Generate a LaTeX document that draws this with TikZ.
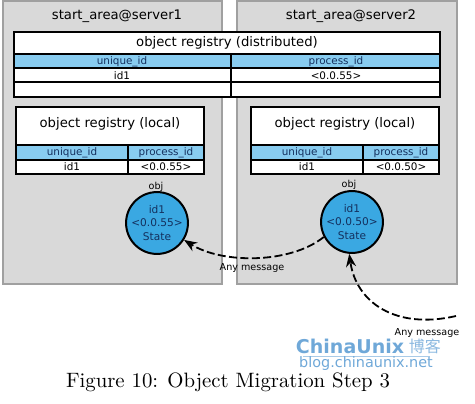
\documentclass[tikz,border=0pt]{standalone}
\usepackage{fontspec}
\setmainfont{Latin Modern Roman}
\newfontfamily\dv{DejaVu Sans}
\newfontfamily\cjk{Noto Sans CJK SC}
\usetikzlibrary{arrows.meta}
\definecolor{srvfill}{HTML}{D9D9D9}
\definecolor{srvdraw}{HTML}{A0A0A0}
\definecolor{hdrfill}{HTML}{88CCF0}
\definecolor{objfill}{HTML}{3AA8E2}
\definecolor{navy}{HTML}{14305E}
\definecolor{wm}{HTML}{6FA8D8}
\tikzset{
  server/.style={fill=srvfill,draw=srvdraw,line width=1pt},
  tbl/.style={draw=black,line width=0.8pt},
  hdr/.style={fill=hdrfill},
  ttl/.style={font=\dv\fontsize{6.6}{8}\selectfont,inner sep=0pt},
  cell/.style={font=\dv\fontsize{5.2}{6}\selectfont,inner sep=0pt},
  hcell/.style={cell,text=navy},
  objc/.style={circle,draw=black,line width=1pt,fill=objfill,minimum size=24pt,inner sep=0pt,
    font=\dv\fontsize{5.3}{6.6}\selectfont,text=navy,align=center},
  lbl/.style={font=\dv\fontsize{4.8}{6}\selectfont,inner sep=0pt},
  msg/.style={line width=0.9pt,dash pattern=on 4pt off 1.7pt,-{Stealth[length=6.5pt,width=5pt]}},
}
\begin{document}
\begin{tikzpicture}[x=0.5pt,y=-0.5pt]
\useasboundingbox (0,0) rectangle (475,403);
% server boxes
\draw[server] (3,1) rectangle (222,284);
\draw[server] (237,1) rectangle (457,284);
\node[ttl] (t1) at (117,16) {start\_area@server1};
\node[ttl] (t2) at (351,16) {start\_area@server2};
% distributed registry
\fill[white] (14,32) rectangle (440,97);
\fill[hdr] (14,54) rectangle (440,68);
\draw[tbl] (14,32) rectangle (440,97);
\draw[tbl] (14,54) -- (440,54) (14,68) -- (440,68) (14,82) -- (440,82) (231,54) -- (231,97);
\node[ttl] (dt) at (227,43) {object registry (distributed)};
\node[hcell] (du) at (122,61.5) {unique\_id};
\node[hcell] (dp) at (336,61.5) {process\_id};
\node[cell] (di) at (122,75.5) {id1};
\node[cell] (dv) at (336,75.5) {<0.0.55>};
% local registry left
\fill[white] (16,107) rectangle (204,174);
\fill[hdr] (16,145) rectangle (204,160);
\draw[tbl] (16,107) rectangle (204,174);
\draw[tbl] (16,145) -- (204,145) (16,160) -- (204,160) (128,145) -- (128,174);
\node[ttl] (lt1) at (110,124) {object registry (local)};
\node[hcell] (lu1) at (72,152.5) {unique\_id};
\node[hcell] (lp1) at (166,152.5) {process\_id};
\node[cell] (li1) at (72,167) {id1};
\node[cell] (lv1) at (166,167) {<0.0.55>};
% local registry right
\fill[white] (251,107) rectangle (439,174);
\fill[hdr] (251,145) rectangle (439,160);
\draw[tbl] (251,107) rectangle (439,174);
\draw[tbl] (251,145) -- (439,145) (251,160) -- (439,160) (363,145) -- (363,174);
\node[ttl] (lt2) at (345,124) {object registry (local)};
\node[hcell] (lu2) at (307,152.5) {unique\_id};
\node[hcell] (lp2) at (401,152.5) {process\_id};
\node[cell] (li2) at (307,167) {id1};
\node[cell] (lv2) at (401,167) {<0.0.50>};
% objects
\node[lbl] (ol1) at (156,187) {obj};
\node[lbl] (ol2) at (349,185) {obj};
\node[objc] (obj1) at (157,223) {id1\\<0.0.55>\\State};
\node[objc] (obj2) at (352,222) {id1\\<0.0.50>\\State};
% messages
\coordinate (src) at (456,316);
\draw[msg] (obj2.208) .. controls (290,264) and (222,264) .. (obj1.-32);
\node[lbl] (m1) at (252,268) {Any message};
\draw[msg] (src) .. controls (395,330) and (356,302) .. (obj2.-95);
\node[lbl] (m2) at (427,333) {Any message};
% watermark
\node[inner sep=0pt,text=wm,font=\dv\bfseries\fontsize{9.5}{10}\selectfont] (w1) at (350,346) {ChinaUnix};
\node[inner sep=0pt,text=wm!80,font=\cjk\fontsize{8}{9}\selectfont,anchor=west] (w2) at (w1.east) {\hspace{2pt}博客};
\draw[wm!60,line width=0.4pt] (303,356) -- (430,356);
\node[inner sep=0pt,text=wm,font=\dv\fontsize{7.2}{8}\selectfont] (w3) at (366,364) {blog.chinaunix.net};
% caption
\node[inner sep=0pt,font=\fontsize{10.4}{12}\selectfont] (cap) at (228,382) {Figure 10: Object Migration Step 3};
\end{tikzpicture}
\end{document}
